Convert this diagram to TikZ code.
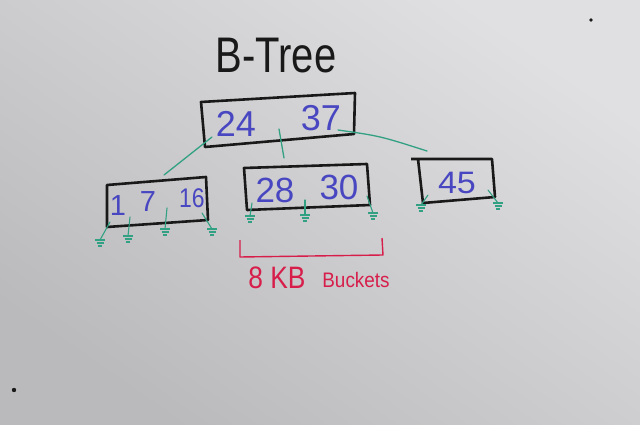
\documentclass[tikz,border=0pt]{standalone}
\usepackage{fontspec}
\setmainfont{Liberation Sans}
\definecolor{ink}{RGB}{25,25,25}
\definecolor{bluemk}{RGB}{72,70,192}
\definecolor{greenmk}{RGB}{50,160,130}
\definecolor{redmk}{RGB}{215,30,75}
\definecolor{boardlt}{RGB}{224,224,226}
\definecolor{boarddk}{RGB}{186,186,188}
\tikzset{
  boxline/.style={draw=ink, line width=2.6pt, line join=round},
  ptr/.style={draw=greenmk, line width=1.3pt, line cap=round},
  num/.style={text=bluemk, inner sep=0pt},
  gnd/.style={draw=greenmk, line width=1.1pt},
}
% ground symbol at a named coordinate
\newcommand{\grnd}[1]{%
  \draw[gnd] ([xshift=-5pt]#1) -- ([xshift=5pt]#1);
  \draw[gnd] ([xshift=-3.5pt,yshift=-3pt]#1) -- ([xshift=3.5pt,yshift=-3pt]#1);
  \draw[gnd] ([xshift=-2pt,yshift=-6pt]#1) -- ([xshift=2pt,yshift=-6pt]#1);}
\begin{document}
\begin{tikzpicture}[x=1pt,y=-1pt]
\useasboundingbox (0,0) rectangle (640,425);
\shade[top color=boardlt, bottom color=boarddk, shading angle=-35] (0,0) rectangle (640,425);
% marker dots
\fill[ink] (591,20) circle (1.8pt);
\fill[ink] (14,390) circle (2.2pt);
% title
\node[text=ink, font=\fontsize{50}{50}\selectfont, xscale=0.8, inner sep=0pt] (title) at (276,56) {B-Tree};
% root box
\coordinate (r1) at (201,102); \coordinate (r2) at (355,93);
\coordinate (r3) at (354,134); \coordinate (r4) at (205,147);
\draw[boxline] (r1) -- (r2) -- (r3) -- (r4) -- cycle;
\node[num, font=\fontsize{36}{36}\selectfont] (n24) at (236,124) {24};
\node[num, font=\fontsize{36}{36}\selectfont] (n37) at (321,118) {37};
% left box
\coordinate (a1) at (107,185); \coordinate (a2) at (206,177);
\coordinate (a3) at (208,220); \coordinate (a4) at (107,227);
\draw[boxline] (a1) -- (a2) -- (a3) -- (a4) -- cycle;
\node[num, font=\fontsize{29}{29}\selectfont] (n1) at (118,206) {1};
\node[num, font=\fontsize{29}{29}\selectfont] (n7) at (148,202) {7};
\node[num, font=\fontsize{27}{27}\selectfont, xscale=0.85] (n16) at (192,198) {16};
% middle box
\coordinate (b1) at (244,168); \coordinate (b2) at (367,164);
\coordinate (b3) at (370,205); \coordinate (b4) at (247,210);
\draw[boxline] (b1) -- (b2) -- (b3) -- (b4) -- cycle;
\node[num, font=\fontsize{35}{35}\selectfont] (n28) at (275,190) {28};
\node[num, font=\fontsize{35}{35}\selectfont] (n30) at (339,187) {30};
% right box
\coordinate (c0) at (411,159);
\coordinate (c1) at (418,159); \coordinate (c2) at (492,159);
\coordinate (c3) at (495,197); \coordinate (c4) at (423,203);
\draw[boxline] (c0) -- (c2) -- (c3) -- (c4) -- (c1);
\node[num, font=\fontsize{31}{31}\selectfont, xscale=1.1] (n45) at (457,183) {45};
% pointers root -> children
\coordinate (p1s) at (212,137); \coordinate (p1e) at (164,175);
\coordinate (p2s) at (279,129); \coordinate (p2e) at (284,158);
\coordinate (p3s) at (338,130); \coordinate (p3e) at (427,151);
\draw[ptr] (p1s) -- (p1e);
\draw[ptr] (p2s) -- (p2e);
\draw[ptr] (p3s) .. controls (380,136) .. (p3e);
% null pointers with ground symbols
\coordinate (la) at (110,222); \coordinate (lag) at (100,240);
\coordinate (lb) at (130,217); \coordinate (lbg) at (128,236);
\coordinate (lc) at (167,208); \coordinate (lcg) at (165,229);
\coordinate (ld) at (202,213); \coordinate (ldg) at (212,229);
\coordinate (ma) at (252,203); \coordinate (mag) at (250,216);
\coordinate (mb) at (305,200); \coordinate (mbg) at (305,215);
\coordinate (mc) at (367,196); \coordinate (mcg) at (373,213);
\coordinate (ra) at (428,195); \coordinate (rag) at (421,205);
\coordinate (rb) at (488,190); \coordinate (rbg) at (498,203);
\foreach \s/\e in {la/lag,lb/lbg,lc/lcg,ld/ldg,ma/mag,mb/mbg,mc/mcg,ra/rag,rb/rbg}{
  \draw[ptr, line width=1.1pt] (\s) -- (\e);
  \grnd{\e}
}
% bracket
\coordinate (k1) at (240,240); \coordinate (k2) at (240,257);
\coordinate (k3) at (383,255); \coordinate (k4) at (382,238);
\draw[redmk, line width=1.4pt, line join=round] (k1) -- (k2) -- (k3) -- (k4);
\node[text=redmk, font=\fontsize{31}{31}\selectfont, xscale=0.85, inner sep=0pt] (kb) at (277,278) {8 KB};
\node[text=redmk, font=\fontsize{21}{21}\selectfont, xscale=0.9, inner sep=0pt] (bk) at (356,280) {Buckets};
\end{tikzpicture}
\end{document}
